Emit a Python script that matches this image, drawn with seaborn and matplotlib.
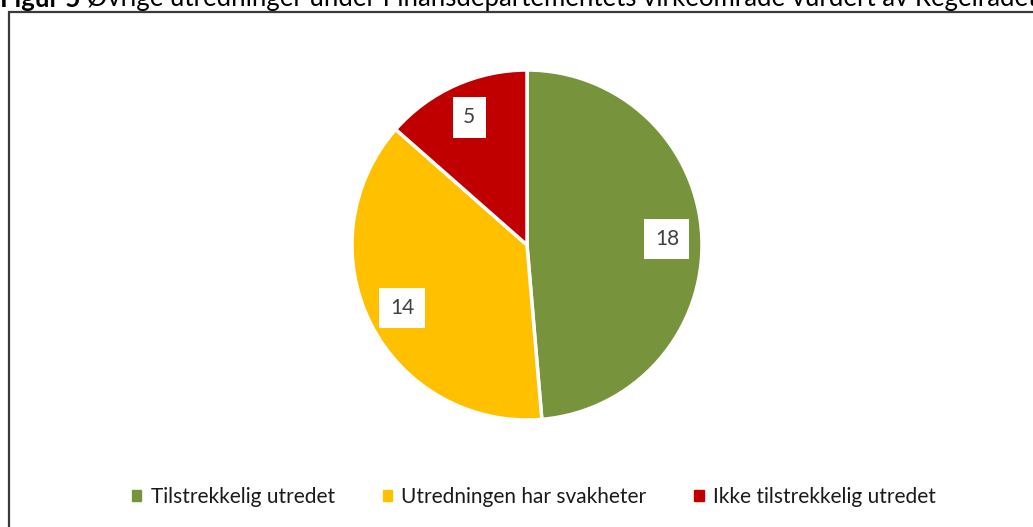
import matplotlib.pyplot as plt
import matplotlib.patches as mpatches
import seaborn as sns

# data
categories = ['Tilstrekkelig utredet', 'Utredningen har svakheter', 'Ikke tilstrekkelig utredet']
counts = [18, 14, 5]
colors = ['#77933C', '#FFC000', '#C00000']

title_bold = 'Figur 5'
title_rest = ' Øvrige utredninger under Finansdepartementets virkeområde vurdert av Regelrådet'

sns.set_theme(style='white')
plt.rcParams['font.family'] = ['Lato', 'DejaVu Sans']

W, H = 1033, 527
fig = plt.figure(figsize=(W / 100, H / 100), dpi=100)

# frame around the chart area (runs off right and bottom edges)
fig.patches.append(mpatches.Rectangle((9 / W, -0.1), 1.1, (H - 12) / H + 0.1,
                                      transform=fig.transFigure, fill=False,
                                      edgecolor='#3a3a3a', linewidth=1.6))

# title, partly clipped at the top like the source
t1 = fig.text(0.0, (H - 11) / H, title_bold, fontsize=18.5, fontweight='bold',
              color='black', va='bottom', ha='left')
fig.add_artist(plt.Annotation(title_rest, xy=(1, 0), xycoords=t1, va='bottom', ha='left',
                              fontsize=18.5, color='black'))

# pie
cx, cy, r = 527, H - 245, 175
ax = fig.add_axes([(cx - r) / W, (cy - r) / H, 2 * r / W, 2 * r / H])
total = sum(counts)
wedges, texts, autotexts = ax.pie(
    counts, colors=colors, startangle=90, counterclock=False,
    wedgeprops=dict(edgecolor='white', linewidth=2.5),
    autopct=lambda p: f'{round(p * total / 100)}', pctdistance=0.8,
    textprops=dict(fontsize=15, color='#404040'))
for t in autotexts:
    t.set_bbox(dict(facecolor='white', edgecolor='none', boxstyle='square,pad=0.5'))
ax.set_xlim(-1, 1)
ax.set_ylim(-1, 1)
ax.set_aspect('equal')
ax.axis('off')

handles = [mpatches.Patch(color=c, label=l) for c, l in zip(colors, categories)]
fig.legend(handles=handles, loc='center', bbox_to_anchor=(534 / W, 30 / H), ncol=3,
           frameon=False, fontsize=15, handlelength=0.45, handleheight=0.45,
           handletextpad=0.45, columnspacing=2.3, labelcolor='#1a1a1a')

fig.savefig('out.png', dpi=100)
